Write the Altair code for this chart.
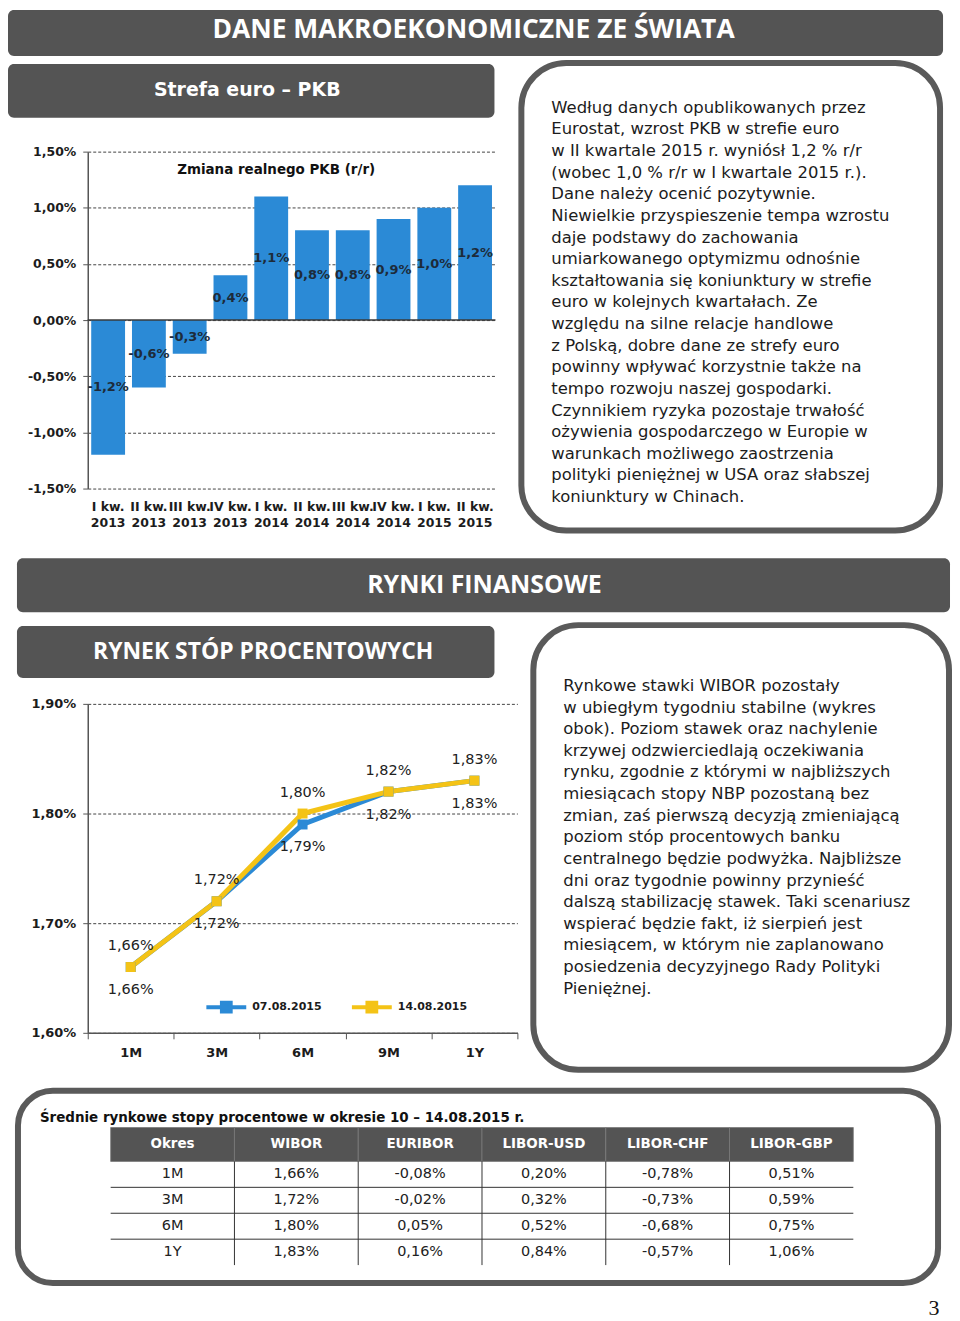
import altair as alt
import pandas as pd

# ---------------- data ----------------
quarters = ["I kw. 2013", "II kw. 2013", "III kw. 2013", "IV kw. 2013",
            "I kw. 2014", "II kw. 2014", "III kw. 2014", "IV kw. 2014",
            "I kw. 2015", "II kw. 2015"]
gdp_yoy = [-1.2, -0.6, -0.3, 0.4, 1.1, 0.8, 0.8, 0.9, 1.0, 1.2]
gdp_ticks = [-1.5, -1.0, -0.5, 0.0, 0.5, 1.0, 1.5]

tenors = ["1M", "3M", "6M", "9M", "1Y"]
series = ["07.08.2015", "14.08.2015"]
wibor_0708 = [1.66, 1.72, 1.79, 1.82, 1.83]
wibor_1408 = [1.66, 1.72, 1.80, 1.82, 1.83]
rate_ticks = [1.6, 1.7, 1.8, 1.9]

table_columns = ["Okres", "WIBOR", "EURIBOR", "LIBOR-USD", "LIBOR-CHF", "LIBOR-GBP"]
table_periods = ["1M", "3M", "6M", "1Y"]
tab_wibor = [1.66, 1.72, 1.80, 1.83]
tab_euribor = [-0.08, -0.02, 0.05, 0.16]
tab_libor_usd = [0.20, 0.32, 0.52, 0.84]
tab_libor_chf = [-0.78, -0.73, -0.68, -0.57]
tab_libor_gbp = [0.51, 0.59, 0.75, 1.06]

heading_1 = "DANE MAKROEKONOMICZNE ZE ŚWIATA"
heading_2 = "Strefa euro – PKB"
chart_1_title = "Zmiana realnego PKB (r/r)"
heading_3 = "RYNKI FINANSOWE"
heading_4 = "RYNEK STÓP PROCENTOWYCH"
table_title = "Średnie rynkowe stopy procentowe w okresie 10 – 14.08.2015 r."
page_number = "3"

text_1 = [
    "Według danych opublikowanych przez",
    "Eurostat, wzrost PKB w strefie euro",
    "w II kwartale 2015 r. wyniósł 1,2 % r/r",
    "(wobec 1,0 % r/r w I kwartale 2015 r.).",
    "Dane należy ocenić pozytywnie.",
    "Niewielkie przyspieszenie tempa wzrostu",
    "daje podstawy do zachowania",
    "umiarkowanego optymizmu odnośnie",
    "kształtowania się koniunktury w strefie",
    "euro w kolejnych kwartałach. Ze",
    "względu na silne relacje handlowe",
    "z Polską, dobre dane ze strefy euro",
    "powinny wpływać korzystnie także na",
    "tempo rozwoju naszej gospodarki.",
    "Czynnikiem ryzyka pozostaje trwałość",
    "ożywienia gospodarczego w Europie w",
    "warunkach możliwego zaostrzenia",
    "polityki pieniężnej w USA oraz słabszej",
    "koniunktury w Chinach.",
]
text_2 = [
    "Rynkowe stawki WIBOR pozostały",
    "w ubiegłym tygodniu stabilne (wykres",
    "obok). Poziom stawek oraz nachylenie",
    "krzywej odzwierciedlają oczekiwania",
    "rynku, zgodnie z którymi w najbliższych",
    "miesiącach stopy NBP pozostaną bez",
    "zmian, zaś pierwszą decyzją zmieniającą",
    "poziom stóp procentowych banku",
    "centralnego będzie podwyżka. Najbliższe",
    "dni oraz tygodnie powinny przynieść",
    "dalszą stabilizację stawek. Taki scenariusz",
    "wspierać będzie fakt, iż sierpień jest",
    "miesiącem, w którym nie zaplanowano",
    "posiedzenia decyzyjnego Rady Polityki",
    "Pieniężnej.",
]

# ---------------- style ----------------
DARK = "#545454"
FRAME = "#5a5a5a"
BLUE = "#2b8ad6"
YELLOW = "#f4c316"
INK = "#1c1c1c"
HEAD = "Open Sans"
BODY = "DejaVu Sans"
MINUS = "\u2212"


def pct_expr(field, digits):
    return ("replace(replace(format(" + field + ", '." + str(digits) + "f'), '.', ','), '"
            + MINUS + "', '-') + '%'")


one = pd.DataFrame({"k": [0]})


def rect(x1, x2, y1, y2, **kw):
    return alt.Chart(one).mark_rect(**kw).encode(
        x=alt.value(x1), x2=alt.value(x2), y=alt.value(y1), y2=alt.value(y2))


def txt(s, x, y, **kw):
    kw.setdefault("baseline", "middle")
    return alt.Chart(one).mark_text(text=s, **kw).encode(x=alt.value(x), y=alt.value(y))


# ---------------- row 1: euro area GDP ----------------
W1, H1 = 409, 338
bar_df = pd.DataFrame({"q": quarters, "v": gdp_yoy})
xq_scale = alt.Scale(type="band", paddingInner=0.17, paddingOuter=0.085)
yv_scale = alt.Scale(domain=[-1.5, 1.5], nice=False, zero=False)
xq_axis = alt.Axis(
    title=None, domain=False, ticks=False, labelAngle=0, labelOverlap=False,
    labelExpr="[slice(datum.label, 0, -5), slice(datum.label, -4)]",
    labelFont=BODY, labelFontSize=12.5, labelFontWeight="bold", labelColor=INK,
    labelPadding=12, labelLineHeight=16)
yv_axis = alt.Axis(
    title=None, values=gdp_ticks, grid=True, gridDash=[3, 2], gridColor="#444",
    gridWidth=1, domainColor="#555", domainWidth=1.5, tickColor="#555", tickSize=5,
    labelExpr=pct_expr("datum.value", 2), labelFont=BODY, labelFontSize=12.5,
    labelFontWeight="bold", labelColor=INK, labelPadding=7)

bars = alt.Chart(bar_df).mark_bar(color=BLUE).encode(
    x=alt.X("q:N", sort=quarters, scale=xq_scale, axis=xq_axis),
    y=alt.Y("v:Q", scale=yv_scale, axis=yv_axis),
)
zero_line = alt.Chart(pd.DataFrame({"v": [0.0]})).mark_rule(color="#3a3a3a", strokeWidth=1.5).encode(
    y=alt.Y("v:Q", scale=yv_scale, axis=yv_axis))
bar_labels = alt.Chart(bar_df).transform_calculate(
    mid="datum.v / 2", lbl=pct_expr("datum.v", 1)
).mark_text(font=BODY, fontSize=13, fontWeight="bold", color="#1d2b3a", baseline="middle").encode(
    x=alt.X("q:N", sort=quarters, scale=xq_scale, axis=xq_axis),
    y=alt.Y("mid:Q", scale=yv_scale, axis=yv_axis),
    text="lbl:N",
)

row1 = alt.layer(
    rect(-80, 858, -142, -96, color=DARK, cornerRadius=6),
    txt(heading_1, 387, -122, font=HEAD, fontSize=26.5, fontWeight="bold", color="white", align="center"),
    rect(-80, 408, -88, -34, color=DARK, cornerRadius=6),
    txt(heading_2, 160, -62, font=BODY, fontSize=19, fontWeight="bold", color="white", align="center"),
    bars, zero_line, bar_labels,
    txt(chart_1_title, 189, 18, font=BODY, fontSize=13.5, fontWeight="bold", color="#111", align="center"),
    rect(435, 855, -89, 380, fill="white", fillOpacity=0, stroke=FRAME, strokeWidth=6, cornerRadius=45),
    alt.Chart(one).mark_text(text=text_1, lineHeight=21.7, align="left", baseline="alphabetic",
                             font=BODY, fontSize=16.5, color=INK).encode(x=alt.value(465), y=alt.value(-39)),
).properties(width=W1, height=H1)

# ---------------- row 2: WIBOR curve ----------------
W2, H2 = 431, 330
line_df = pd.DataFrame({
    "tenor": tenors * 2,
    "value": wibor_0708 + wibor_1408,
    "series": [series[0]] * len(tenors) + [series[1]] * len(tenors),
})
xt_scale = alt.Scale(type="band", paddingInner=0, paddingOuter=0)
yr_scale = alt.Scale(domain=[1.6, 1.9], nice=False, zero=False)
col_scale = alt.Scale(domain=series, range=[BLUE, YELLOW])
# legend lives in the top-level group, whose origin is the bar chart's plot corner
legend = alt.Legend(
    orient="none", legendX=117, legendY=836, direction="horizontal", title=None,
    symbolType="M-1,0L1,0M-0.22,-0.22L0.22,-0.22L0.22,0.22L-0.22,0.22Z",
    symbolSize=1600, symbolStrokeWidth=4, labelFont=BODY, labelFontSize=11,
    labelFontWeight="bold", labelColor=INK, labelOffset=4, columnPadding=22, padding=0)

xt_axis = alt.Axis(
    title=None, tickBand="extent", domainColor="#555", domainWidth=1.5, tickColor="#555",
    tickSize=6, labelAngle=0, labelFont=BODY, labelFontSize=13, labelFontWeight="bold",
    labelColor=INK, labelPadding=8, grid=False)
yr_axis = alt.Axis(
    title=None, values=rate_ticks, grid=True, gridDash=[3, 2], gridColor="#444", gridWidth=1,
    domainColor="#555", domainWidth=1.5, tickColor="#555", tickSize=5,
    labelExpr=pct_expr("datum.value", 2), labelFont=BODY, labelFontSize=13,
    labelFontWeight="bold", labelColor=INK, labelPadding=7)
x_t = alt.X("tenor:N", sort=tenors, scale=xt_scale, axis=xt_axis)
y_r = alt.Y("value:Q", scale=yr_scale, axis=yr_axis)

lines = alt.Chart(line_df).mark_line(strokeWidth=5).encode(
    x=x_t, y=y_r, color=alt.Color("series:N", scale=col_scale, legend=legend))
points = alt.Chart(line_df).mark_point(shape="square", filled=True, size=100, opacity=1).encode(
    x=x_t, y=y_r, color=alt.Color("series:N", scale=col_scale, legend=legend))
labels_top = alt.Chart(line_df).transform_filter(
    alt.datum.series == series[1]
).transform_calculate(lbl=pct_expr("datum.value", 2)).mark_text(
    font=BODY, fontSize=14.5, color="#222", baseline="middle", dy=-21).encode(x=x_t, y=y_r, text="lbl:N")
labels_bot = alt.Chart(line_df).transform_filter(
    alt.datum.series == series[0]
).transform_calculate(lbl=pct_expr("datum.value", 2)).mark_text(
    font=BODY, fontSize=14.5, color="#222", baseline="middle", dy=23).encode(x=x_t, y=y_r, text="lbl:N")

row2 = alt.layer(
    rect(-71, 865, -146, -92, color=DARK, cornerRadius=6),
    txt(heading_3, 398, -119, font=HEAD, fontSize=25, fontWeight="bold", color="white", align="center"),
    rect(-71, 408, -78, -26, color=DARK, cornerRadius=6),
    txt(heading_4, 176, -52, font=HEAD, fontSize=23, fontWeight="bold", color="white", align="center"),
    lines, points, labels_top, labels_bot,
    rect(447, 864, -79, 367, fill="white", fillOpacity=0, stroke=FRAME, strokeWidth=6, cornerRadius=45),
    alt.Chart(one).mark_text(text=text_2, lineHeight=21.7, align="left", baseline="alphabetic",
                             font=BODY, fontSize=16.5, color=INK).encode(x=alt.value(477), y=alt.value(-13)),
).properties(width=W2, height=H2)

# ---------------- row 3: rates table ----------------
W3, H3 = 768, 104
rate_cols = {"WIBOR": tab_wibor, "EURIBOR": tab_euribor, "LIBOR-USD": tab_libor_usd,
             "LIBOR-CHF": tab_libor_chf, "LIBOR-GBP": tab_libor_gbp}
recs = []
for i, p in enumerate(table_periods):
    recs.append({"period": p, "col": "Okres", "value": None})
    for c, vals in rate_cols.items():
        recs.append({"period": p, "col": c, "value": vals[i]})
table_df = pd.DataFrame(recs)
cols_df = pd.DataFrame({"col": table_columns})

xc_scale = alt.Scale(type="band", paddingInner=0, paddingOuter=0.0926, align=1)
yp_scale = alt.Scale(type="band", paddingInner=0, paddingOuter=0)
x_c = alt.X("col:N", sort=table_columns, scale=xc_scale, axis=None)
y_p = alt.Y("period:N", sort=table_periods, scale=yp_scale, axis=None)

head_cells = alt.Chart(cols_df).mark_rect(color=DARK, stroke="#7a7a7a", strokeWidth=0.8).encode(
    x=x_c, y=alt.value(-34), y2=alt.value(0))
head_text = alt.Chart(cols_df).mark_text(font=BODY, fontSize=13.5, fontWeight="bold", color="white",
                                         baseline="middle").encode(x=x_c, y=alt.value(-17), text="col:N")
body_text = alt.Chart(table_df).transform_calculate(
    txt="datum.col == 'Okres' ? datum.period : " + pct_expr("datum.value", 2)
).mark_text(font=BODY, fontSize=14.5, color="#222", baseline="middle").encode(x=x_c, y=y_p, text="txt:N")
h_rules = alt.Chart(pd.DataFrame({"period": table_periods[:-1]})).mark_rule(color="#333", strokeWidth=1).encode(
    y=alt.Y("period:N", sort=table_periods, scale=yp_scale, axis=None, bandPosition=1),
    x=alt.value(23), x2=alt.value(W3))
v_rules = alt.Chart(pd.DataFrame({"col": table_columns[:-1]})).mark_rule(color="#333", strokeWidth=1).encode(
    x=alt.X("col:N", sort=table_columns, scale=xc_scale, axis=None, bandPosition=1),
    y=alt.value(0), y2=alt.value(H3))

row3 = alt.layer(
    rect(-70, 853, -71, 122, fill="white", fillOpacity=0, stroke=FRAME, strokeWidth=6, cornerRadius=35),
    txt(table_title, -48, -44, font=BODY, fontSize=13.5, fontWeight="bold", color="#111", align="left"),
    head_cells, head_text, body_text, h_rules, v_rules,
    txt(page_number, 849, 147, font="Liberation Serif", fontSize=22, color="#111", align="center"),
).properties(width=W3, height=H3)


def spacer(h):
    return alt.Chart(one).mark_point(opacity=0).encode(
        x=alt.value(0), y=alt.value(0)).properties(width=1, height=h)


chart = alt.vconcat(
    row1, spacer(216), row2, spacer(129), row3, spacing=0, bounds="flush"
).properties(padding=0, background="white").configure_view(strokeWidth=0)

chart.save("out.html", embed_options={"renderer": "svg", "actions": False})
